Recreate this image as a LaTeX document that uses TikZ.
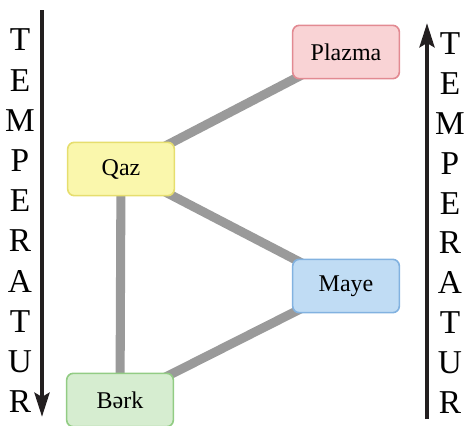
\documentclass[tikz,border=0pt]{standalone}
\usepackage{fontspec}
\setmainfont{Liberation Serif}
\usetikzlibrary{arrows.meta,backgrounds}

\tikzset{
  state/.style={draw,line width=1.2pt,rounded corners=5pt,minimum width=80pt,
    minimum height=40pt,inner sep=0pt,font=\fontsize{18}{20}\selectfont},
  link/.style={draw=linkgray,line width=6.8pt},
  tarrow/.style={line width=3.6pt,draw=arrowblack,
    -{Stealth[length=18pt,width=11pt,inset=3pt]}},
  tletter/.style={font=\fontsize{25}{27}\selectfont,inner sep=0pt}
}
\definecolor{linkgray}{HTML}{9A9A9A}
\definecolor{arrowblack}{HTML}{231F20}
\definecolor{plazmafill}{HTML}{F9D3D5}
\definecolor{plazmaline}{HTML}{E28A92}
\definecolor{qazfill}{HTML}{FAF7AC}
\definecolor{qazline}{HTML}{E6DE6E}
\definecolor{mayefill}{HTML}{C0DCF4}
\definecolor{mayeline}{HTML}{82B2E0}
\definecolor{berkfill}{HTML}{D6EDD0}
\definecolor{berkline}{HTML}{92CC84}

\begin{document}
\begin{tikzpicture}[x=0.75pt,y=-0.75pt]
   \useasboundingbox (0,0) rectangle (466,425);
   % phase boxes
   \node[state,fill=plazmafill,draw=plazmaline] (plazma) at (346,52)  {Plazma};
   \node[state,fill=qazfill,draw=qazline]       (qaz)    at (121,169) {Qaz};
   \node[state,fill=mayefill,draw=mayeline]     (maye)   at (346,286) {Maye};
   \node[state,fill=berkfill,draw=berkline]     (berk)   at (120,400) {Bərk};
   % links behind the boxes
   \begin{scope}[on background layer]
    \path[link] (qaz.center) -- (plazma.center);
    \path[link] (qaz.center) -- (maye.center);
    \path[link] (qaz.center) -- (berk.center);
    \path[link] (berk.center) -- (maye.center);
   \end{scope}
   % temperature arrows
   \coordinate (ltop) at (42,10);
   \coordinate (lbot) at (42,417);
   \coordinate (rbot) at (427,419);
   \coordinate (rtop) at (427,23);
   \draw[tarrow] (ltop) -- (lbot);
   \draw[tarrow] (rbot) -- (rtop);
   \foreach \c [count=\i from 0] in {T,E,M,P,E,R,A,T,U,R}{
     \node[tletter] (l\i) at (20,{40+40.2*\i}) {\c};
     \node[tletter] (r\i) at (450,{44+39.8*\i}) {\c};
   }
  \end{tikzpicture}
\end{document}
